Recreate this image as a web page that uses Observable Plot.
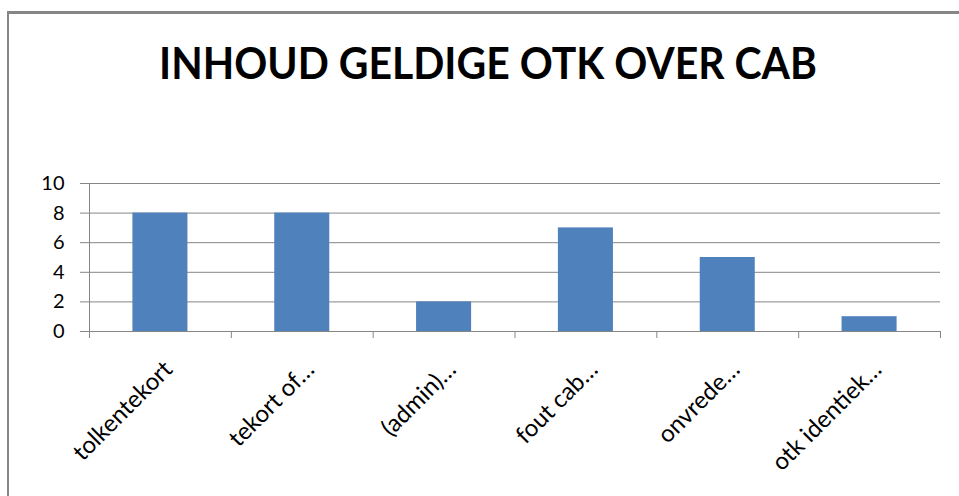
<!DOCTYPE html>
<html>
<head>
<meta charset="utf-8">
<script src="https://cdn.jsdelivr.net/npm/d3@7"></script>
<script src="https://cdn.jsdelivr.net/npm/@observablehq/plot@0.6"></script>
<style>
  html, body { margin: 0; padding: 0; background: #fff; overflow: hidden; width: 959px; height: 496px; }
  #frame { position: absolute; left: 7px; top: 11px; width: 1000px; height: 600px;
           border-left: 2px solid #868686; border-top: 3px solid #868686; box-sizing: border-box; }
  #title { position: absolute; left: 0; width: 976px; top: 40px; text-align: center;
           font-family: Lato, "Open Sans", sans-serif; font-weight: bold; font-size: 44px; color: #000;
           line-height: 1; white-space: nowrap; transform: scaleX(0.93); transform-origin: 488px 0; }
  #chart { position: absolute; left: 0; top: 0; }
</style>
</head>
<body>
<div id="frame"></div>
<div id="chart"></div>
<div id="title">INHOUD GELDIGE OTK OVER CAB</div>
<script>
const categories = ["tolkentekort", "tekort of…", "(admin)…", "fout cab…", "onvrede…", "otk identiek…"];
const values = [8, 8, 2, 7, 5, 1];
const yTicks = [0, 2, 4, 6, 8, 10];

const data = categories.map((c, i) => ({category: c, index: i, value: values[i]}));
const boundaries = d3.range(categories.length + 1);
const centers = d3.range(categories.length).map(i => i + 0.5);
const gray = "#868686";
const font = "Lato, 'Open Sans', sans-serif";

const chart = Plot.plot({
  width: 959,
  height: 496,
  marginTop: 183,
  marginBottom: 165,
  marginLeft: 89,
  marginRight: 19,
  style: {background: "transparent", overflow: "visible", fontFamily: font},
  x: {type: "linear", domain: [0, categories.length], label: null},
  y: {domain: [0, 10], label: null},
  marks: [
    Plot.gridY(yTicks, {stroke: gray, strokeOpacity: 1, strokeWidth: 1}),
    Plot.rectY(data, {x1: "index", x2: d => d.index + 1, y: "value", fill: "#4F81BD",
                      insetLeft: 43.4, insetRight: 43.4}),
    Plot.ruleY([0], {stroke: gray, strokeWidth: 1}),
    Plot.ruleX([0], {stroke: gray, strokeWidth: 1}),
    Plot.axisY(yTicks, {tickSize: 9, tickPadding: 16, stroke: gray, fill: "#000",
                        fontSize: 20, fontFamily: font, label: null}),
    Plot.axisX(boundaries, {tickSize: 7, tickFormat: () => "", stroke: gray, label: null}),
    Plot.axisX(centers, {tickSize: 0, tickPadding: 34, tickRotate: -45, dx: 8,
                         tickFormat: d => categories[Math.floor(d)],
                         textAnchor: "end", lineAnchor: "middle",
                         fill: "#000", fontSize: 24, fontFamily: font, label: null})
  ]
});
document.getElementById("chart").appendChild(chart);
</script>
</body>
</html>
